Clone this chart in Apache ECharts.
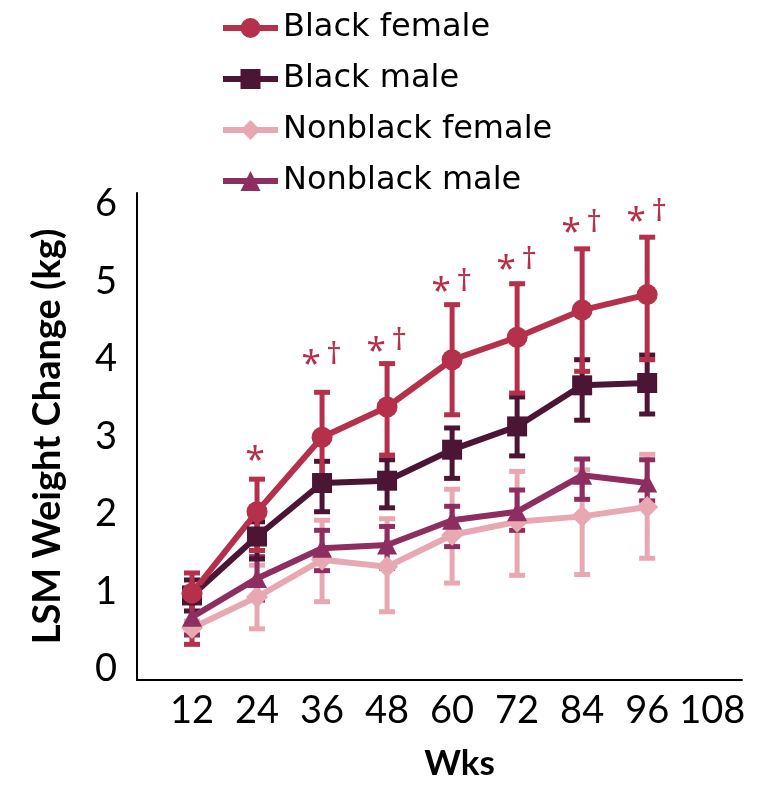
<!DOCTYPE html>
<html>
<head>
<meta charset="utf-8">
<script src="https://cdn.jsdelivr.net/npm/echarts@6/dist/echarts.min.js"></script>
<style>
  html, body { margin: 0; padding: 0; background: #ffffff; }
  #chart { width: 768px; height: 786px; }
</style>
</head>
<body>
<div id="chart"></div>
<script>
// ---- data ----
var weeks = [12, 24, 36, 48, 60, 72, 84, 96];
var xTickLabels = [12, 24, 36, 48, 60, 72, 84, 96, 108];
var yTickLabels = [0, 1, 2, 3, 4, 5, 6];

var seriesNames = ['Black female', 'Black male', 'Nonblack female', 'Nonblack male'];

var blackFemaleMean = [0.98, 2.03, 2.99, 3.38, 3.99, 4.28, 4.63, 4.83];
var blackFemaleLow  = [0.32, 1.53, 2.41, 2.76, 3.28, 3.56, 3.84, 3.99];
var blackFemaleHigh = [1.24, 2.45, 3.57, 3.94, 4.70, 4.97, 5.42, 5.57];

var blackMaleMean = [0.95, 1.71, 2.40, 2.43, 2.83, 3.13, 3.66, 3.69];
var blackMaleLow  = [0.75, 1.42, 2.03, 2.08, 2.46, 2.75, 3.21, 3.29];
var blackMaleHigh = [1.15, 1.90, 2.68, 2.70, 3.11, 3.51, 3.99, 4.05];

var nonblackFemaleMean = [0.53, 0.93, 1.41, 1.32, 1.73, 1.90, 1.97, 2.09];
var nonblackFemaleLow  = [0.45, 0.52, 0.87, 0.74, 1.11, 1.21, 1.22, 1.43];
var nonblackFemaleHigh = [0.62, 1.34, 1.92, 1.94, 2.32, 2.55, 2.57, 2.77];

var nonblackMaleMean = [0.67, 1.17, 1.56, 1.60, 1.92, 2.03, 2.50, 2.40];
var nonblackMaleLow  = [0.44, 0.89, 1.27, 1.30, 1.58, 1.79, 2.19, 2.17];
var nonblackMaleHigh = [0.90, 1.45, 1.79, 1.84, 2.10, 2.31, 2.71, 2.70];

// significance marks and the level (kg) at which each is written
var sigMarks = ['', '*', '*\u2020', '*\u2020', '*\u2020', '*\u2020', '*\u2020', '*\u2020'];
var sigLevel = [null, 2.80, 4.04, 4.21, 4.98, 5.26, 5.74, 5.88];

// ---- styles ----
var colors = {
  'Black female': '#B5304A',
  'Black male': '#4D1534',
  'Nonblack female': '#E8A8B2',
  'Nonblack male': '#8E2E60'
};
var symbols = {
  'Black female': ['circle', 21],
  'Black male': ['rect', 20],
  'Nonblack female': ['diamond', [22, 22]],
  'Nonblack male': ['triangle', [20, 19]]
};
var groups = {
  'Black female': [blackFemaleMean, blackFemaleLow, blackFemaleHigh],
  'Black male': [blackMaleMean, blackMaleLow, blackMaleHigh],
  'Nonblack female': [nonblackFemaleMean, nonblackFemaleLow, nonblackFemaleHigh],
  'Nonblack male': [nonblackMaleMean, nonblackMaleLow, nonblackMaleHigh]
};

function errorBarSeries(name) {
  var g = groups[name];
  var color = colors[name];
  return {
    type: 'custom',
    name: name + ' (error)',
    silent: true,
    itemStyle: { color: color },
    data: weeks.map(function (w, i) { return [w, g[1][i], g[2][i]]; }),
    encode: { x: 0, y: [1, 2] },
    renderItem: function (params, api) {
      var x = api.value(0);
      var hi = api.coord([x, api.value(2)]);
      var lo = api.coord([x, api.value(1)]);
      var half = 8;
      var st = { stroke: color, lineWidth: 5, lineCap: 'butt' };
      return {
        type: 'group',
        children: [
          { type: 'line', shape: { x1: hi[0], y1: hi[1], x2: lo[0], y2: lo[1] }, style: st },
          { type: 'line', shape: { x1: hi[0] - half, y1: hi[1], x2: hi[0] + half, y2: hi[1] }, style: st },
          { type: 'line', shape: { x1: lo[0] - half, y1: lo[1], x2: lo[0] + half, y2: lo[1] }, style: st }
        ]
      };
    }
  };
}

function lineSeries(name) {
  var g = groups[name];
  return {
    type: 'line',
    name: name,
    data: weeks.map(function (w, i) { return [w, g[0][i]]; }),
    symbol: symbols[name][0],
    symbolSize: symbols[name][1],
    showSymbol: true,
    color: colors[name],
    lineStyle: { color: colors[name], width: 6 },
    itemStyle: { color: colors[name], borderWidth: 0 },
    emphasis: { disabled: true }
  };
}

var drawOrder = ['Nonblack female', 'Nonblack male', 'Black male', 'Black female'];
var series = [];
drawOrder.forEach(function (n) {
  series.push(errorBarSeries(n));
  series.push(lineSeries(n));
});

series.push({
  type: 'custom',
  name: 'sig',
  silent: true,
  data: weeks.map(function (w, i) { return [w, sigLevel[i], i]; }),
  encode: { x: 0, y: 1 },
  renderItem: function (params, api) {
    var i = api.value(2);
    var mark = sigMarks[i];
    if (!mark) return null;
    var p = api.coord([api.value(0), api.value(1)]);
    var children = [];
    var hasDagger = mark.length > 1;
    children.push({
      type: 'text',
      style: {
        text: '*', x: p[0] + (hasDagger ? -11 : -2), y: p[1] + 9,
        align: 'center', verticalAlign: 'middle',
        font: '35px "Noto Sans"', fill: colors['Black female']
      }
    });
    if (hasDagger) {
      children.push({
        type: 'text',
        style: {
          text: '\u2020', x: p[0] + 12, y: p[1] - 1,
          align: 'center', verticalAlign: 'middle',
          font: '31px "Noto Sans"', fill: colors['Black female']
        }
      });
    }
    return { type: 'group', children: children };
  }
});

var chart = echarts.init(document.getElementById('chart'), null, { renderer: 'canvas' });
chart.setOption({
  animation: false,
  backgroundColor: '#ffffff',
  grid: { left: 137, right: 26, top: 193, bottom: 106, containLabel: false },
  legend: {
    data: seriesNames,
    orient: 'vertical',
    left: 220,
    top: 12,
    padding: 0,
    itemWidth: 55,
    itemHeight: 25,
    itemGap: 19,
    itemTextGap: 30,
    lineStyle: { width: 6 },
    textStyle: { fontFamily: 'DejaVu Sans', fontSize: 32, color: '#000', lineHeight: 32 },
    selectedMode: false
  },
  xAxis: {
    type: 'value',
    min: 1.85,
    max: 113.5,
    name: 'Wks',
    nameLocation: 'middle',
    nameGap: 66,
    nameTextStyle: { fontFamily: 'Lato', fontWeight: 'bold', fontSize: 35, color: '#000', padding: [0, 0, 0, 40] },
    axisLine: { show: true, onZero: false, lineStyle: { color: '#000', width: 2 } },
    axisTick: { show: false },
    splitLine: { show: false },
    axisLabel: { customValues: xTickLabels, fontFamily: 'Lato', fontSize: 38, color: '#000', margin: 12 }
  },
  yAxis: {
    type: 'value',
    min: -0.14,
    max: 6.14,
    name: 'LSM Weight Change (kg)',
    nameLocation: 'middle',
    nameGap: 70,
    nameTextStyle: { fontFamily: 'Lato', fontWeight: 'bold', fontSize: 38, color: '#000' },
    axisLine: { show: true, lineStyle: { color: '#000', width: 2 } },
    axisTick: { show: false },
    splitLine: { show: false },
    axisLabel: { customValues: yTickLabels, fontFamily: 'Lato', fontSize: 38, color: '#000', margin: 20 }
  },
  series: series
});
</script>
</body>
</html>
